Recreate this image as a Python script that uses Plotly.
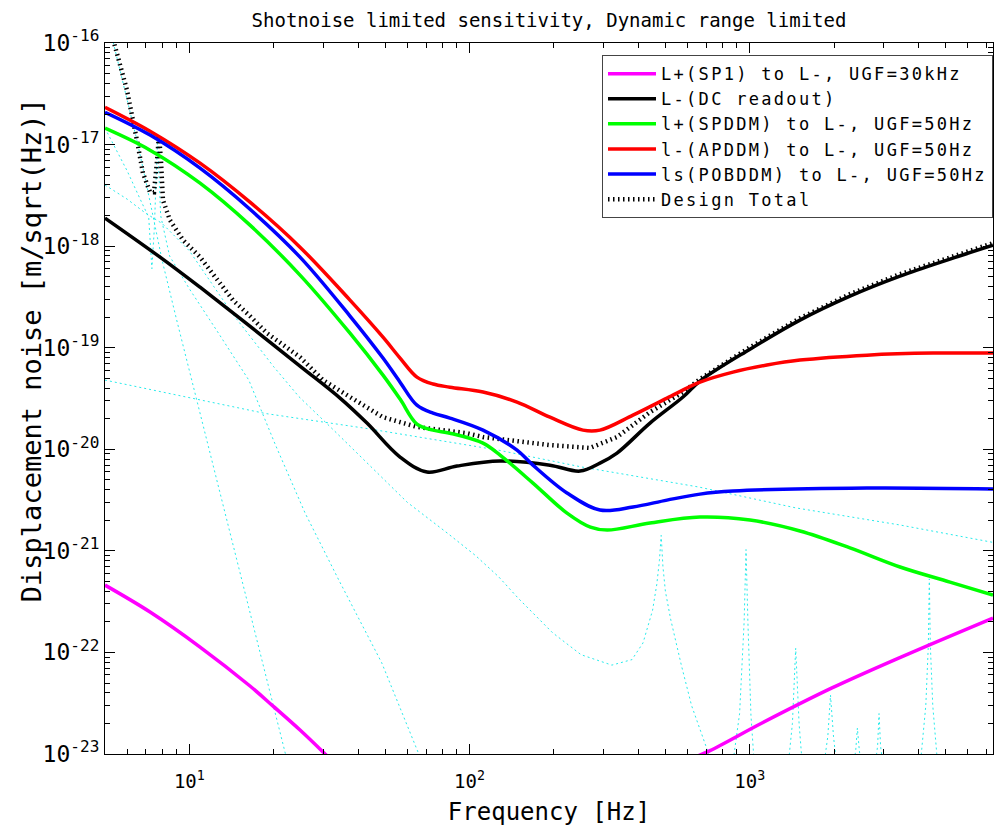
import plotly.graph_objects as go

# ---------------- data ----------------
f_lp_lo = [5, 7.24, 10.92, 16.46, 19.9, 24.83, 30.5, 37.44]
v_lp_lo = [4.6e-22, 2.5e-22, 1.13e-22, 4.67e-23, 2.96e-23, 1.72e-23, 1.0e-23, 5.7e-24]
f_lp_hi = [612, 721, 1106, 1966, 3466, 7381]
v_lp_hi = [8.9e-24, 1.08e-23, 2.02e-23, 4.47e-23, 9.0e-23, 2.18e-22]

f_dc = [5, 7.86, 10.92, 15.16, 24.83, 34.5, 43.05, 56.5, 70.5, 90.2, 128.5, 193.7, 247.8,
        292, 336, 440.6, 577.8, 664.5, 1002, 1511, 2279, 3438, 5184, 7381]
v_dc = [1.89e-18, 7.8e-19, 3.94e-19, 1.95e-19, 6.59e-20, 3.19e-20, 1.81e-20, 8.38e-21,
        5.97e-21, 6.84e-21, 7.66e-21, 6.98e-21, 6.1e-21, 7.31e-21, 9.18e-21, 1.81e-20,
        3.27e-20, 4.7e-20, 9.68e-20, 1.87e-19, 3.22e-19, 5.07e-19, 7.45e-19, 1.02e-18]

f_sp = [5, 7.24, 10.92, 16.46, 24.83, 37.44, 49.1, 56.5, 64.9, 74.1, 85.1, 111.7, 128.5,
        168.4, 222.8, 270, 310, 440.6, 664.5, 1002, 1511, 2279, 3438, 5184, 7381]
v_sp = [1.45e-17, 8.81e-18, 4.17e-18, 1.61e-18, 5.19e-19, 1.39e-19, 5.37e-20, 3.12e-20,
        1.77e-20, 1.545e-20, 1.44e-20, 1.15e-20, 8.77e-21, 4.65e-21, 2.35e-21, 1.71e-21,
        1.6e-21, 1.88e-21, 2.15e-21, 2.01e-21, 1.57e-21, 1.07e-21, 6.94e-22, 4.93e-22,
        3.67e-22]

f_ap = [5, 7.24, 10.92, 16.46, 24.83, 37.44, 49.1, 56.5, 64.9, 74.1, 85.1, 111.7, 147.7,
        193.7, 254, 292, 383, 506.6, 664.5, 871.6, 1152, 1511, 2621, 4508, 7381]
v_ap = [2.33e-17, 1.355e-17, 6.56e-18, 2.71e-18, 9.77e-19, 2.94e-19, 1.27e-19, 7.91e-20,
        5.14e-20, 4.39e-20, 4.09e-20, 3.66e-20, 2.92e-20, 2.07e-20, 1.545e-20, 1.545e-20,
        2.17e-20, 3.19e-20, 4.58e-20, 5.75e-20, 6.75e-20, 7.55e-20, 8.45e-20, 8.85e-20,
        8.85e-20]

f_pob = [5, 7.24, 10.92, 16.46, 24.83, 37.44, 49.1, 56.5, 64.9, 74.1, 85.1, 111.7, 147.7,
         168.4, 222.8, 292, 383, 506.6, 664.5, 871.6, 2621, 7381]
v_pob = [2.08e-17, 1.24e-17, 5.86e-18, 2.31e-18, 7.8e-19, 2.05e-19, 7.91e-20, 4.58e-20,
         2.72e-20, 2.27e-20, 2.03e-20, 1.545e-20, 9.8e-21, 6.98e-21, 3.71e-21, 2.52e-21,
         2.7e-21, 3.16e-21, 3.62e-21, 3.88e-21, 4.15e-21, 4.06e-21]

f_tot = [5.12, 5.43, 5.99, 6.5, 6.83, 7.24, 7.48, 7.67, 7.79, 7.92, 8.05, 8.53, 9.49, 10.92,
         12.55, 14.31, 16.46, 18.93, 24.83, 30.0, 37.44, 49.1, 64.9, 97.9, 111.7, 193.7, 269,
         336, 440.6, 577.8, 664.5, 1002, 1511, 2279, 3438, 5184, 7381]
v_tot = [1.67e-16, 9.1e-17, 3.43e-17, 1.1e-17, 5.24e-18, 3.4e-18, 3.4e-18, 7.0e-18, 1.24e-17,
         7.0e-18, 2.84e-18, 1.8e-18, 1.15e-18, 7.8e-19, 4.62e-19, 2.94e-19, 2.05e-19,
         1.39e-19, 8.07e-20, 4.8e-20, 3.27e-20, 2.07e-20, 1.66e-20, 1.44e-20, 1.32e-20,
         1.1e-20, 1.03e-20, 1.32e-20, 2.32e-20, 3.66e-20, 4.91e-20, 1.01e-19, 1.95e-19,
         3.37e-19, 5.3e-19, 7.8e-19, 1.07e-18]

# thin cyan noise components (not in legend)
f_c1 = [5, 18.7, 42.5, 127, 251, 466, 658, 1459, 3428, 7400]
v_c1 = [4.8e-20, 2.25e-20, 1.61e-20, 9.8e-21, 6.7e-21, 4.98e-21, 4.25e-21, 2.65e-21,
        1.8e-21, 1.21e-21]
f_c2 = [5, 5.5, 6, 6.5, 7, 7.5, 8, 9, 10.2, 12, 14, 17, 20, 22, 24]
v_c2 = [2.2e-16, 7.5e-17, 2.9e-17, 1.1e-17, 4.3e-18, 1.7e-18, 7.2e-19, 1.9e-19, 4.8e-20,
        8.0e-21, 1.47e-21, 1.74e-22, 2.9e-23, 1.0e-23, 3.9e-24]
f_c3 = [5, 6, 6.8, 7.16, 7.35, 7.5, 7.7, 7.9, 8.5, 10, 12.5, 16.3, 20.3, 25.9, 34.1, 48.6,
        65.9, 75]
v_c3 = [1.45e-17, 5.5e-18, 2.6e-18, 1.94e-18, 6e-19, 1.5e-18, 1.1e-17, 2e-18, 8e-19,
        3.8e-19, 1.49e-19, 4.8e-20, 1.1e-20, 2.35e-21, 5.2e-22, 7.9e-23, 1e-23, 4e-24]
f_c4 = [5, 6, 7, 8, 10, 14.2, 20, 24.6, 32.3, 45, 60, 84, 105, 127, 149, 198, 250, 322, 380,
        416, 450, 466, 476, 483, 490, 500, 522, 570, 620, 714, 800]
v_c4 = [4e-18, 2.9e-18, 2.1e-18, 1.67e-18, 9e-19, 2.19e-19, 6.5e-20, 3.3e-20, 1.6e-20,
        6.5e-21, 3.0e-21, 1.47e-21, 9e-22, 5.56e-22, 3.43e-22, 1.56e-22, 9.5e-23, 7.5e-23,
        8.5e-23, 1.24e-22, 2.6e-22, 4.7e-22, 8e-22, 1.42e-21, 7e-22, 4e-22, 2.13e-22, 7.5e-23,
        3e-23, 1e-23, 4e-24]
f_c5 = [850, 920, 955, 970, 985, 1010, 1050, None,
        1350, 1420, 1459, 1500, 1560, None,
        1800, 1900, 1942, 1990, 2080, None,
        2300, 2390, 2422, 2460, 2550, None,
        2750, 2860, 2894, 2930, 3050, None,
        4000, 4250, 4340, 4375, 4410, 4500, 4750]
v_c5 = [5e-24, 2.5e-23, 2e-22, 1.03e-21, 2e-22, 2.4e-23, 5e-24, None,
        5e-24, 2e-23, 1.1e-22, 2e-23, 5e-24, None,
        5e-24, 1.5e-23, 3.8e-23, 1.5e-23, 5e-24, None,
        5e-24, 1.1e-23, 1.8e-23, 1.1e-23, 5e-24, None,
        5e-24, 1.2e-23, 2.5e-23, 1.2e-23, 5e-24, None,
        5e-24, 3e-23, 1.2e-22, 5.3e-22, 1.2e-22, 3e-23, 5e-24]

legend_names = ["L+(SP1) to L-, UGF=30kHz", "L-(DC readout)", "l+(SPDDM) to L-, UGF=50Hz",
                "l-(APDDM) to L-, UGF=50Hz", "ls(POBDDM) to L-, UGF=50Hz", "Design Total"]

yticks = [1e-23, 1e-22, 1e-21, 1e-20, 1e-19, 1e-18, 1e-17, 1e-16]
ytick_text = ["10<sup>-23</sup>", "10<sup>-22</sup>", "10<sup>-21</sup>", "10<sup>-20</sup>",
              "10<sup>-19</sup>", "10<sup>-18</sup>", "10<sup>-17</sup>", "10<sup>-16</sup>"]
xticks = [10, 100, 1000]
xtick_text = ["10<sup>1</sup>", "10<sup>2</sup>", "10<sup>3</sup>"]

FONT = "DejaVu Sans Mono"


def lname(s):
    return "<span style='letter-spacing:2.3px'>" + s + "</span>"


fig = go.Figure()

cyan = dict(color="rgb(40,235,235)", width=1, dash="2px,3px")
for fx, vy in [(f_c1, v_c1), (f_c2, v_c2), (f_c3, v_c3), (f_c4, v_c4), (f_c5, v_c5)]:
    fig.add_trace(go.Scatter(x=fx, y=vy, mode="lines", line=cyan, showlegend=False,
                             hoverinfo="skip"))

fig.add_trace(go.Scatter(x=f_tot, y=v_tot, mode="lines", name=lname(legend_names[5]),
                         legendrank=6,
                         line=dict(color="black", width=4.5, dash="1.5px,3.5px")))

W = 3.5
fig.add_trace(go.Scatter(x=f_lp_lo, y=v_lp_lo, mode="lines", name=lname(legend_names[0]),
                         legendrank=1, legendgroup="lp",
                         line=dict(color="#ff00ff", width=W, shape="spline")))
fig.add_trace(go.Scatter(x=f_lp_hi, y=v_lp_hi, mode="lines", showlegend=False,
                         legendgroup="lp",
                         line=dict(color="#ff00ff", width=W, shape="spline")))
fig.add_trace(go.Scatter(x=f_dc, y=v_dc, mode="lines", name=lname(legend_names[1]),
                         legendrank=2, line=dict(color="black", width=W, shape="spline")))
fig.add_trace(go.Scatter(x=f_sp, y=v_sp, mode="lines", name=lname(legend_names[2]),
                         legendrank=3, line=dict(color="#00ff00", width=W, shape="spline")))
fig.add_trace(go.Scatter(x=f_ap, y=v_ap, mode="lines", name=lname(legend_names[3]),
                         legendrank=4, line=dict(color="#ff0000", width=W, shape="spline")))
fig.add_trace(go.Scatter(x=f_pob, y=v_pob, mode="lines", name=lname(legend_names[4]),
                         legendrank=5, line=dict(color="#0000ff", width=W, shape="spline")))

axis_common = dict(type="log", showline=True, linecolor="black", linewidth=1,
                   mirror="allticks", ticks="inside", ticklen=10, tickcolor="black",
                   showgrid=False, zeroline=False, tickmode="array",
                   minor=dict(ticks="inside", ticklen=5, tickcolor="black", dtick="D1",
                              showgrid=False))

fig.update_layout(
    width=994, height=831,
    margin=dict(l=105, r=1, t=43, b=77),
    paper_bgcolor="white", plot_bgcolor="white",
    font=dict(family=FONT, color="black"),
    title=dict(text="Shotnoise limited sensitivity, Dynamic range limited",
               x=0.5, xref="paper", xanchor="center", y=0.976, yref="container",
               yanchor="middle", font=dict(size=19, family=FONT)),
    xaxis=dict(axis_common, range=[0.69897, 3.8682], tickvals=xticks, ticktext=xtick_text,
               tickfont=dict(size=19), ticklabelstandoff=10,
               title=dict(text="Frequency [Hz]", font=dict(size=24), standoff=12)),
    yaxis=dict(axis_common, range=[-23, -16], tickvals=yticks, ticktext=ytick_text,
               tickfont=dict(size=23)),
    legend=dict(x=1, xanchor="right", y=0.983, yanchor="top", bgcolor="white",
                bordercolor="#444", borderwidth=1, font=dict(size=17, family=FONT),
                itemwidth=48, tracegroupgap=0),
    annotations=[dict(text="Displacement noise [m/sqrt(Hz)]", xref="paper", yref="paper",
                      x=0, y=0.568, xshift=-74, xanchor="center", yanchor="middle",
                      textangle=-90, showarrow=False, font=dict(size=27, family=FONT))],
)

# remove the default 8px page margin so the 994x831 figure fills the window exactly
fig.write_html("out.html", config={"displayModeBar": False},
               post_script="document.body.style.margin='0';"
                           "document.body.style.overflow='hidden';")
